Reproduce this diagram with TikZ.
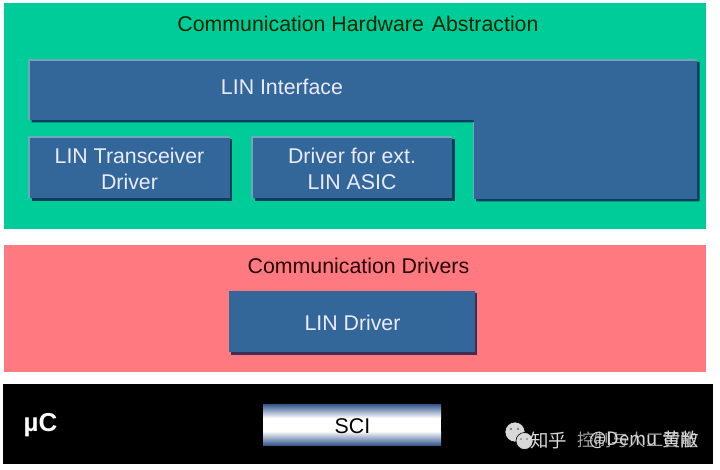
\documentclass[tikz,border=0pt]{standalone}
\usepackage{fontspec}
\setmainfont{Liberation Sans}
\newfontfamily\cjk{Noto Sans CJK SC}
\definecolor{greenbg}{HTML}{00CC99}
\definecolor{redbg}{HTML}{FF7A80}
\definecolor{bluebox}{HTML}{336699}
\definecolor{blueshade}{HTML}{0B3F5C}
\definecolor{bluelight}{HTML}{6FA8B8}
\definecolor{scidark}{HTML}{3A5A90}
\definecolor{wmark}{HTML}{D8D8D8}
\tikzset{
  x=1bp,y=-1bp,
  boxtext/.style={text=white!92!blue,align=center,font=\fontsize{21.4}{26}\selectfont,inner sep=0pt},
  headtext/.style={text=black!85!green,font=\fontsize{21.4}{24}\selectfont,inner sep=0pt},
  bluebody/.style={fill=bluebox,draw=none},
  blueshadow/.style={fill=blueshade,draw=none},
  hilite/.style={draw=bluelight,line width=1.2bp,line cap=butt},
  wmtext/.style={text=wmark,font=\cjk\fontsize{18.5}{20}\selectfont,inner sep=0pt,anchor=west},
  wmbubble/.style={fill=wmark,draw=black,line width=0.6bp},
}
\begin{document}
\begin{tikzpicture}
\useasboundingbox (0,0) rectangle (720,470);
\fill[white] (0,0) rectangle (720,470);
% layers
\fill[greenbg] (4,3) rectangle (706,229);
\fill[redbg] (4,245) rectangle (706,372);
\fill[black] (3,384) rectangle (713,464);
\node[headtext] (hwa) at (358,24) {Communication Hardware\hspace{2bp} Abstraction};
\node[headtext,text=black!85!red] (drv) at (358.5,265.5) {Communication Drivers};
% L shaped interface
\fill[blueshadow] (31.5,62) -- (699.5,62) -- (699.5,201.5) -- (476,201.5) -- (476,122.5) -- (31.5,122.5) -- cycle;
\fill[bluebody] (29,60) -- (697,60) -- (697,199) -- (473.5,199) -- (473.5,120) -- (29,120) -- cycle;
\draw[hilite] (29,120) -- (29,60) -- (697,60);
\draw[hilite] (473.5,122) -- (473.5,199);
\node[boxtext] (lin) at (282,86.5) {LIN Interface};
% lower boxes
\fill[blueshadow] (31.5,139) rectangle (232,201);
\fill[bluebody] (29,137) rectangle (230,198.5);
\draw[hilite] (29,198.5) -- (29,137) -- (230,137);
\node[boxtext] (trx) at (129.5,168.5) {LIN Transceiver\\Driver};
\fill[blueshadow] (254.5,139) rectangle (454.5,201);
\fill[bluebody] (252,137) rectangle (452,198.5);
\draw[hilite] (252,198.5) -- (252,137) -- (452,137);
\node[boxtext] (asic) at (352,168.5) {Driver for ext.\\LIN ASIC};
% LIN Driver
\fill[blueshade!70!purple] (231,293) rectangle (477,354.5);
\fill[bluebody] (229,291) rectangle (475,352);
\node[boxtext] (lind) at (352.5,323) {LIN Driver};
% SCI
\fill[white] (263,404.5) rectangle (441,445);
\path[top color=scidark,bottom color=white] (263,404.5) rectangle (441,418);
\path[top color=white,bottom color=scidark] (263,431) rectangle (441,445);
\node[text=black,font=\fontsize{21.4}{24}\selectfont,inner sep=0pt] (sci) at (352.5,426) {SCI};
\node[text=white,font=\fontsize{26}{26}\selectfont\bfseries,inner sep=0pt] (uc) at (40.5,425.5) {µC};
% watermark
\fill[wmbubble] (515,432) circle[radius=10];
\fill[wmbubble] (524.5,441) circle[radius=8.5];
\fill[black!60] (511,429) circle[radius=1.1] (518,429) circle[radius=1.1] (521,439) circle[radius=0.9] (527,439) circle[radius=0.9];
\node[wmtext] (wa) at (530,440) {知乎};
\node[wmtext] (wb) at (589,440) {@Demu};
\node[wmtext] (wc) at (662,440) {黄敝};
\node[wmtext,opacity=0.75,font=\cjk\fontsize{17.3}{20}\selectfont] (wd) at (577,440) {控制与人工智能};
\end{tikzpicture}
\end{document}
